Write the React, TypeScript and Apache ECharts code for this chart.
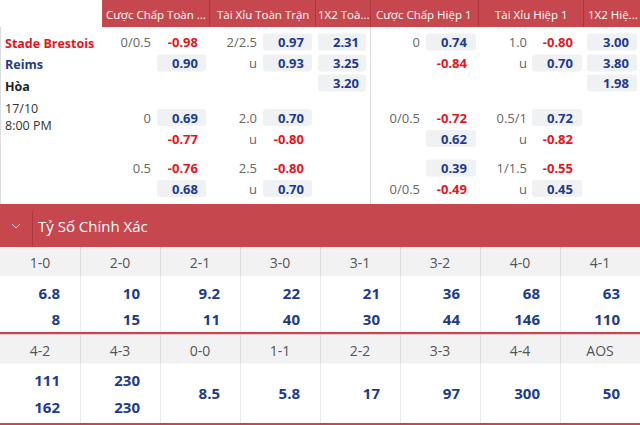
import React, { useEffect, useRef } from "react";
import * as echarts from "echarts";

// ---------- data ----------
const headers = ["Cược Chấp Toàn ...", "Tài Xỉu Toàn Trận", "1X2 Toà...", "Cược Chấp Hiệp 1", "Tài Xỉu Hiệp 1", "1X2 Hiệ..."];
const teams = ["Stade Brestois", "Reims", "Hòa"];
const kickoff = ["17/10", "8:00 PM"];

const ftHdpLines = [["0/0.5", ""], ["0", ""], ["0.5", ""]];
const ftHdpOdds = [[-0.98, 0.9], [0.69, -0.77], [-0.76, 0.68]];
const ftOuLines = [["2/2.5", "u"], ["2.0", "u"], ["2.5", "u"]];
const ftOuOdds = [[0.97, 0.93], [0.7, -0.8], [-0.8, 0.7]];
const ft1x2 = [2.31, 3.25, 3.2];
const h1HdpLines = [["0", ""], ["0/0.5", ""], ["", "0/0.5"]];
const h1HdpOdds = [[0.74, -0.84], [-0.72, 0.62], [0.39, -0.49]];
const h1OuLines = [["1.0", "u"], ["0.5/1", "u"], ["1/1.5", "u"]];
const h1OuOdds = [[-0.8, 0.7], [0.72, -0.82], [-0.55, 0.45]];
const h11x2 = [3.0, 3.8, 1.98];

const sectionTitle = "Tỷ Số Chính Xác";
const scores1 = ["1-0", "2-0", "2-1", "3-0", "3-1", "3-2", "4-0", "4-1"];
const home1 = [6.8, 10, 9.2, 22, 21, 36, 68, 63];
const away1 = [8, 15, 11, 40, 30, 44, 146, 110];
const scores2 = ["4-2", "4-3", "0-0", "1-1", "2-2", "3-3", "4-4", "AOS"];
const home2 = [111, 230, 8.5, 5.8, 17, 97, 300, 50];
const away2: (number | null)[] = [162, 230, null, null, null, null, null, null];

// ---------- style ----------
const FONT = '"Open Sans", "Noto Sans", sans-serif';
const RED_BG = "#c6474e";
const RED_LINE = "#a83a40";
const NAVY = "#1c3b8c";
const RED_TXT = "#e5141c";
const GRAY_TXT = "#666666";
const BOX = "#f0f1f3";

function text(x: number, y: number, t: string, font: string, fill: string, align = "left") {
  return {
    type: "text",
    silent: true,
    style: { x, y, text: t, font, fill, align, verticalAlign: "middle" },
  };
}
function rect(x: number, y: number, w: number, h: number, fill: string, r = 0) {
  return { type: "rect", silent: true, shape: { x, y, width: w, height: h, r }, style: { fill } };
}
function vline(x: number, y1: number, y2: number, stroke: string) {
  return { type: "line", silent: true, shape: { x1: x, y1, x2: x, y2 }, style: { stroke, lineWidth: 1 } };
}

function build() {
  const els: any[] = [];
  // background
  els.push(rect(0, 0, 640, 425, "#ffffff"));
  // top header
  els.push(rect(102, 0, 538, 27, RED_BG));
  [209, 315, 370, 478, 583].forEach((x) => els.push(vline(x + 0.5, 0, 27, RED_LINE)));
  const hx = [106, 217, 318, 376, 495, 588];
  headers.forEach((h, i) => els.push(text(hx[i], 14, h, `11.5px ${FONT}`, "#ffffff")));
  // top section borders
  els.push(vline(0.5, 27, 204, "#dddddd"));
  els.push(vline(370.5, 27, 204, "#dddddd"));

  // teams
  const teamColors = [RED_TXT, NAVY, "#222222"];
  const teamY = [43, 64, 86];
  teams.forEach((t, i) => els.push(text(5, teamY[i], t, `bold 12.5px ${FONT}`, teamColors[i])));
  kickoff.forEach((t, i) => els.push(text(5, 108 + i * 17, t, `12.5px ${FONT}`, "#333333")));

  const blockRows = [[42, 63], [117.5, 138.5], [168, 188.5]];
  const oddFont = `bold 13px ${FONT}`;
  const lineFont = `13px ${FONT}`;

  const odd = (v: number, y: number, boxX: number, boxW: number, right: number) => {
    if (v > 0) els.push(rect(boxX, y - 8.5, boxW, 17, BOX, 3));
    els.push(text(right, y, v.toFixed(2), oddFont, v < 0 ? RED_TXT : NAVY, "right"));
  };

  const markets = [
    { lines: ftHdpLines, odds: ftHdpOdds, lineRight: 151, boxX: 157, boxW: 49, right: 198 },
    { lines: ftOuLines, odds: ftOuOdds, lineRight: 257, boxX: 263, boxW: 49, right: 304 },
    { lines: h1HdpLines, odds: h1HdpOdds, lineRight: 420, boxX: 426, boxW: 50, right: 467 },
    { lines: h1OuLines, odds: h1OuOdds, lineRight: 527, boxX: 532, boxW: 50, right: 573 },
  ];
  markets.forEach((m) => {
    blockRows.forEach((rows, b) => {
      rows.forEach((y, r) => {
        const l = m.lines[b][r];
        if (l) els.push(text(m.lineRight, y, l, lineFont, GRAY_TXT, "right"));
        odd(m.odds[b][r], y, m.boxX, m.boxW, m.right);
      });
    });
  });
  const rows3 = [42, 63, 83];
  ft1x2.forEach((v, i) => odd(v, rows3[i], 318, 48, 359));
  h11x2.forEach((v, i) => odd(v, rows3[i], 587, 50, 629));

  // exact score title bar
  els.push(rect(0, 204, 640, 43, RED_BG));
  els.push(vline(32.5, 211, 246, RED_LINE));
  els.push({
    type: "polyline",
    silent: true,
    shape: { points: [[12, 224], [16, 228], [20, 224]] },
    style: { stroke: "#f3d6d8", lineWidth: 1, fill: "none" },
  });
  els.push(text(38, 226, sectionTitle, `15px ${FONT}`, "#ffffff"));

  const grid = (labels: string[], home: number[], away: (number | null)[], top: number, valBottom: number, twoRows: boolean[]) => {
    els.push(rect(0, top, 640, 29, "#f2f2f2"));
    labels.forEach((l, i) => {
      const x0 = i * 80;
      if (i > 0) {
        els.push(vline(x0 + 0.5, top, top + 29, "#dcdcdc"));
        els.push(vline(x0 + 0.5, top + 29, valBottom, "#ebebeb"));
      }
      els.push(text(x0 + 40, top + 15.5, l, `14px ${FONT}`, "#555555", "center"));
      const valFont = `bold 15px ${FONT}`;
      const a = away[i];
      if (twoRows[i] && a != null) {
        els.push(text(x0 + 60, top + 45.5, String(home[i]), valFont, NAVY, "right"));
        els.push(text(x0 + 60, top + 72, String(a), valFont, NAVY, "right"));
      } else {
        els.push(text(x0 + 60, top + 58.5, String(home[i]), valFont, NAVY, "right"));
      }
    });
  };
  grid(scores1, home1, away1, 247, 332, away1.map((v) => v != null));
  els.push(rect(0, 332, 640, 2.5, RED_BG));
  grid(scores2, home2, away2, 334.5, 423, away2.map((v) => v != null));
  els.push(rect(0, 423, 640, 2, RED_BG));

  return els;
}

export default function App() {
  const ref = useRef<HTMLDivElement>(null);
  useEffect(() => {
    if (!ref.current) return;
    const chart = echarts.init(ref.current, null, { renderer: "svg" });
    chart.setOption({ animation: false, graphic: { elements: build() } });
    return () => chart.dispose();
  }, []);
  return (
    <div
      ref={ref}
      style={{ position: "fixed", left: 0, top: 0, width: 640, height: 425, background: "#fff" }}
    />
  );
}
